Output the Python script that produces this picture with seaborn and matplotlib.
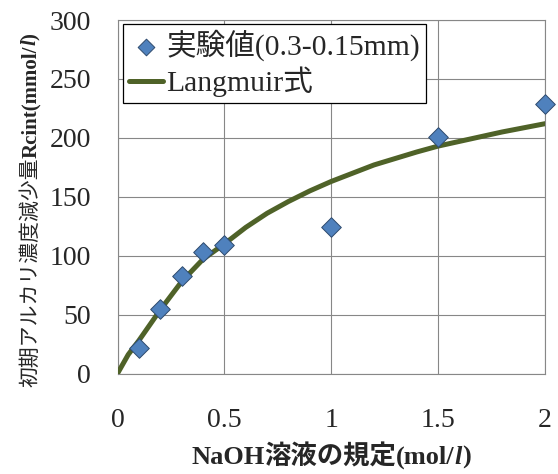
import matplotlib
matplotlib.use("Agg")
import matplotlib.pyplot as plt
import seaborn as sns
import pandas as pd

# Measured points: NaOH normality vs. reduction of initial alkali concentration
naoh_conc = [0.1, 0.2, 0.3, 0.4, 0.5, 1.0, 1.5, 2.0]
rcint_measured = [22, 55, 83, 103, 109, 124, 201, 229]

# Langmuir fitted curve
curve_conc = [0.0, 0.05, 0.1, 0.2, 0.3, 0.4, 0.5, 0.6, 0.7, 0.8, 0.9, 1.0,
              1.2, 1.4, 1.5, 1.6, 1.8, 2.0]
curve_rcint = [0, 16, 28, 54, 78, 97, 110, 124, 136, 146, 155, 163,
               177, 188, 193, 197, 205, 212]

x_ticks = [0, 0.5, 1, 1.5, 2]
x_tick_labels = ["0", "0.5", "1", "1.5", "2"]
y_ticks = [0, 50, 100, 150, 200, 250, 300]

label_points = "実験値(0.3-0.15mm)"
label_curve = "Langmuir式"

SERIF = "Liberation Serif"
CJK = "Noto Sans CJK JP"

sns.set_style("white")
plt.rcParams["font.family"] = [SERIF, CJK]

df_pts = pd.DataFrame({"conc": naoh_conc, "rcint": rcint_measured})
df_curve = pd.DataFrame({"conc": curve_conc, "rcint": curve_rcint})

fig = plt.figure(figsize=(5.58, 4.74), dpi=100)
ax = fig.add_axes([0.2106, 0.2120, 0.7661, 0.7458])

sns.lineplot(data=df_curve, x="conc", y="rcint", ax=ax, color="#4F6228",
             linewidth=3.6, label=label_curve, zorder=3, estimator=None)
sns.scatterplot(data=df_pts, x="conc", y="rcint", ax=ax, marker="D", s=100,
                color="#4F81BD", edgecolor="#2F4B6E", linewidth=0.7,
                label=label_points, zorder=4, clip_on=False)

ax.set_xlim(0, 2)
ax.set_ylim(0, 300)
ax.set_xticks(x_ticks)
ax.set_xticklabels(x_tick_labels)
ax.set_yticks(y_ticks)
ax.tick_params(axis="x", length=0, pad=24.5, labelsize=20)
ax.tick_params(axis="y", length=0, pad=19, labelsize=20)
for lab in ax.get_xticklabels() + ax.get_yticklabels():
    lab.set_fontfamily(SERIF)

ax.grid(True, color="#878787", linewidth=0.8)
ax.set_axisbelow(True)
for sp in ax.spines.values():
    sp.set_color("#878787")
    sp.set_linewidth(0.8)
ax.set_xlabel("")
ax.set_ylabel("")

handles, labels = ax.get_legend_handles_labels()
order = [labels.index(label_points), labels.index(label_curve)]
leg = ax.legend([handles[i] for i in order], [labels[i] for i in order],
                loc="upper left", bbox_to_anchor=(0.012, 0.989),
                borderaxespad=0, fancybox=False, framealpha=1,
                edgecolor="black", markerscale=0.85,
                handlelength=1.15, handletextpad=0.12, labelspacing=0.18,
                borderpad=0.2, prop={"family": [SERIF, CJK], "size": 21.3})
leg.get_frame().set_linewidth(0.9)
leg.set_zorder(5)


def place_pieces(pieces, center, fixed, vertical, size):
    """Lay out differently styled text runs end to end, centred on `center`."""
    renderer = fig.canvas.get_renderer()
    rot = 90 if vertical else 0
    texts = []
    for s, kw in pieces:
        t = fig.text(0, 0, s, fontsize=size, rotation=rot,
                     rotation_mode="anchor", ha="left", va="baseline", **kw)
        texts.append(t)
    lengths = []
    for t in texts:
        bb = t.get_window_extent(renderer)
        lengths.append(bb.height if vertical else bb.width)
    total = sum(lengths)
    pos = center - total / 2
    W, H = fig.bbox.width, fig.bbox.height
    for t, L in zip(texts, lengths):
        if vertical:
            # runs stack upwards; `pos` counts from the bottom of the run
            t.set_position((fixed / W, 1 - (2 * center - pos) / H))
        else:
            t.set_position((pos / W, 1 - fixed / H))
        pos += L
    return texts


fig.canvas.draw()

serif_b = dict(family=SERIF, weight="bold")
serif_bi = dict(family=SERIF, weight="bold", style="italic")

# x-axis title
place_pieces([("NaOH", serif_b),
              ("溶液の規定", dict(family=CJK, weight="bold")),
              ("(mol/", serif_b), ("l", serif_bi), (")", serif_b)],
             center=331, fixed=464, vertical=False, size=19)

# y-axis title, drawn bottom to top
place_pieces([("初期アルカリ濃度減少量", dict(family=CJK)),
              ("Rcint(mmol/", serif_b), ("l", serif_bi), (")", serif_b)],
             center=210, fixed=36, vertical=True, size=15)

fig.savefig("out.png", dpi=100)
